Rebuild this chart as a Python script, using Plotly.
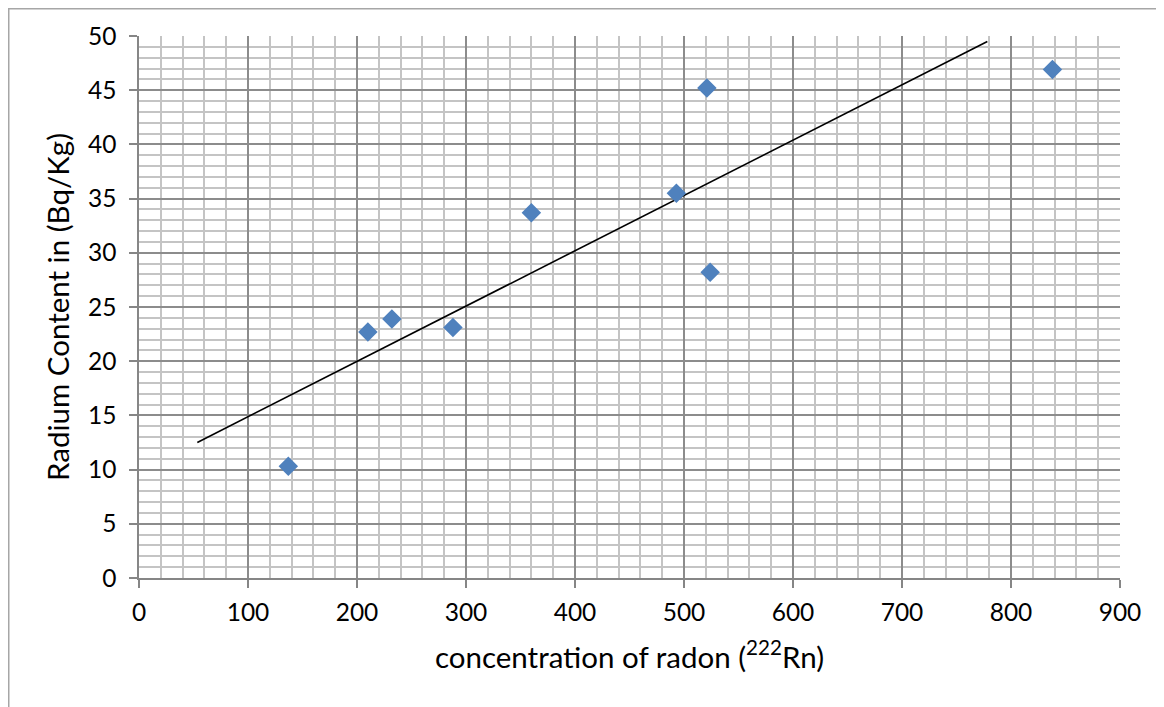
import plotly.graph_objects as go

radon = [137, 210, 232, 288, 360, 493, 521, 524, 838]
radium = [10.3, 22.7, 23.9, 23.1, 33.7, 35.5, 45.2, 28.2, 46.9]
trend_x = [53.5, 778.3]
trend_y = [12.5, 49.5]
x_ticks = [0, 100, 200, 300, 400, 500, 600, 700, 800, 900]
y_ticks = [0, 5, 10, 15, 20, 25, 30, 35, 40, 45, 50]

# figure sits inside an 8px page margin
W, H = 1156, 699
L, R, T, B = 131, 44, 28, 129
pw, ph = W - L - R, H - T - B

fig = go.Figure()
fig.add_trace(go.Scatter(x=trend_x, y=trend_y, mode="lines",
                         line=dict(color="black", width=1.6), showlegend=False))
fig.add_trace(go.Scatter(x=radon, y=radium, mode="markers",
                         marker=dict(symbol="diamond", size=15, color="#4F81BD",
                                     line=dict(width=0)), showlegend=False))

font = "Lato, 'Open Sans', sans-serif"
axis_common = dict(
    showline=True, linecolor="#868686", linewidth=1.5,
    ticks="outside", ticklen=8, tickcolor="#868686", tickwidth=1.5,
    showgrid=True, gridcolor="#8C8C8C", gridwidth=1.5,
    zeroline=False, tickfont=dict(family=font, size=24.5, color="black"),
)
fig.update_xaxes(range=[0, 900], tickvals=x_ticks, ticktext=[str(v) for v in x_ticks],
                 ticklabelstandoff=4,
                 minor=dict(dtick=20, showgrid=True, gridcolor="#C4C4C4", gridwidth=1.5),
                 title=dict(text="concentration of radon (<sup>222</sup>Rn)",
                            font=dict(family=font, size=29.5, color="black"), standoff=22),
                 **axis_common)
fig.update_yaxes(range=[0, 50], tickvals=y_ticks, ticktext=[str(v) for v in y_ticks],
                 ticklabelstandoff=8,
                 minor=dict(dtick=1, showgrid=True, gridcolor="#C4C4C4", gridwidth=1.5),
                 title=dict(text="Radium Content in (Bq/Kg)",
                            font=dict(family=font, size=29.5, color="black"), standoff=10),
                 **axis_common)

# outer chart border
fig.add_shape(type="rect", xref="paper", yref="paper",
              x0=(0.75 - L) / pw, x1=(W + 20 - L) / pw,
              y0=-(H + 20 - T - ph) / ph, y1=1 + (T - 0.75) / ph,
              line=dict(color="#A6A6A6", width=1.5), fillcolor="rgba(0,0,0,0)", layer="below")

fig.update_layout(width=W, height=H, margin=dict(l=L, r=R, t=T, b=B),
                  paper_bgcolor="white", plot_bgcolor="white",
                  font=dict(family=font, color="black"))
fig.write_html("out.html")
